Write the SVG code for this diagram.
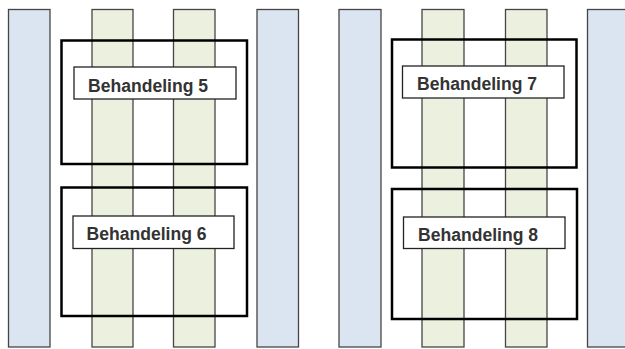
<svg xmlns="http://www.w3.org/2000/svg" width="625" height="349" viewBox="0 0 625 349">
<style>
.blue{fill:#dbe5f1;stroke:#454545;stroke-width:1.3}
.green{fill:#ebf1de;stroke:#454545;stroke-width:1.3}
.plot{fill:none;stroke:#000;stroke-width:2.5}
.lbl{fill:#fff;stroke:#222;stroke-width:1.3}
.t{font-family:"Liberation Sans",Arial,sans-serif;font-weight:bold;font-size:17.5px;fill:#333}
</style>
<rect width="625" height="349" fill="#fff"/>
<g id="strips">
<rect class="blue" x="8.5" y="9.5" width="41.5" height="337.5"/>
<rect class="green" x="92" y="9.5" width="41" height="337.5"/>
<rect class="green" x="173.5" y="9.5" width="41.5" height="337.5"/>
<rect class="blue" x="257" y="9.5" width="41.5" height="337.5"/>
<rect class="blue" x="339" y="9.5" width="42" height="337.5"/>
<rect class="green" x="422" y="9.5" width="42" height="337.5"/>
<rect class="green" x="505.5" y="9.5" width="41.5" height="337.5"/>
<rect class="blue" x="587.5" y="9.5" width="45" height="337.5"/>
</g>
<g id="b5">
<rect class="plot" x="61.5" y="40.5" width="185.5" height="123.5"/>
<rect class="lbl" x="74" y="67" width="162" height="32"/>
<text class="t" x="88" y="91.5" textLength="120" lengthAdjust="spacingAndGlyphs">Behandeling 5</text>
</g>
<g id="b6">
<rect class="plot" x="61.5" y="187.5" width="185.5" height="128.5"/>
<rect class="lbl" x="73" y="216" width="161" height="32.5"/>
<text class="t" x="86.5" y="239.5" textLength="120" lengthAdjust="spacingAndGlyphs">Behandeling 6</text>
</g>
<g id="b7">
<rect class="plot" x="392" y="39.5" width="184.5" height="128"/>
<rect class="lbl" x="402.5" y="66" width="161.5" height="32"/>
<text class="t" x="417" y="89.5" textLength="120" lengthAdjust="spacingAndGlyphs">Behandeling 7</text>
</g>
<g id="b8">
<rect class="plot" x="392" y="189" width="185" height="130"/>
<rect class="lbl" x="403.5" y="217" width="161.5" height="31.5"/>
<text class="t" x="418" y="240.5" textLength="120" lengthAdjust="spacingAndGlyphs">Behandeling 8</text>
</g>
<g id="connectors"/>
</svg>
